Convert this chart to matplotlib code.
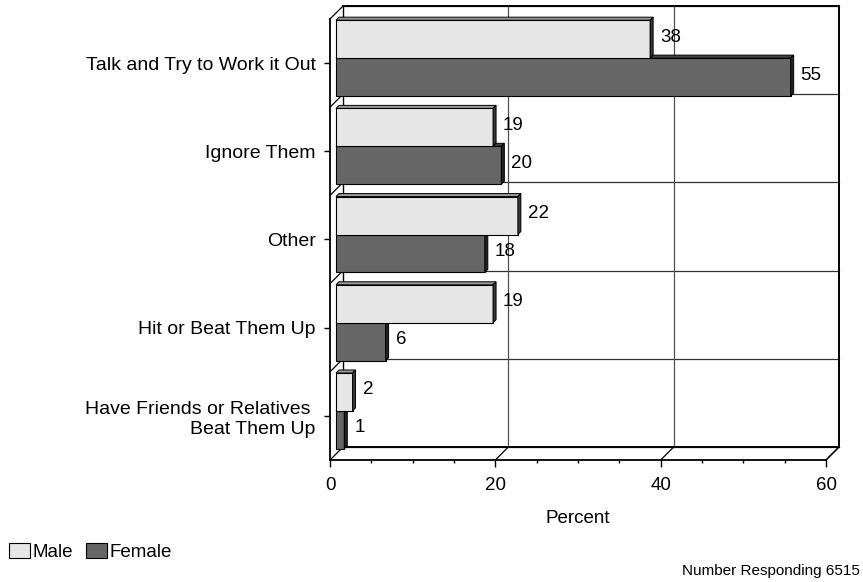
import matplotlib
matplotlib.use("Agg")
import matplotlib.pyplot as plt
import matplotlib.transforms as mtransforms
from matplotlib.patches import Polygon, Patch
from matplotlib.lines import Line2D
from matplotlib.ticker import MultipleLocator

plt.rcParams['font.family'] = ['Liberation Sans', 'DejaVu Sans']

categories = ["Talk and Try to Work it Out", "Ignore Them", "Other",
              "Hit or Beat Them Up", "Have Friends or Relatives \nBeat Them Up"]
male = [38, 19, 22, 19, 2]
female = [55, 20, 18, 6, 1]
series_names = ["Male", "Female"]
x_ticks = [0, 20, 40, 60]
x_label = "Percent"
footnote = "Number Responding 6515"

male_col, male_top, male_side = "#e6e6e6", "#9a9a9a", "#383838"
fem_col, fem_top, fem_side = "#666666", "#444444", "#222222"

W, H, DPI = 863, 582, 100
fig = plt.figure(figsize=(W / DPI, H / DPI), dpi=DPI)
ax = fig.add_axes([330 / W, 122 / H, 496 / W, 441 / H])
ax.set_xlim(0, 60)
ax.set_ylim(-0.5, 4.5)
ax.patch.set_visible(False)

n = len(categories)
ypos = [n - 1 - i for i in range(n)]
FS = 13.5

WALL = 13          # depth of the chart box, pixels
BX, BY = 6, 5      # bars sit midway in the box depth
D = 3              # bar depth, pixels


def shift(dx, dy):
    return ax.transData + mtransforms.ScaledTranslation(dx / DPI, dy / DPI, fig.dpi_scale_trans)


back = shift(WALL, WALL)
ident = mtransforms.IdentityTransform()

# back wall: category separators and vertical gridlines
for b in [i - 0.5 for i in range(n + 1)]:
    ax.plot([0, 60], [b, b], transform=back, color="#303030", lw=0.9, clip_on=False, zorder=1)
for xv in x_ticks[1:-1]:
    ax.plot([xv, xv], [-0.5, 4.5], transform=back, color="#505050", lw=0.9, clip_on=False, zorder=1)
# back wall frame
ax.plot([0, 0], [-0.5, 4.5], transform=back, color="k", lw=1.0, clip_on=False, zorder=1)
ax.plot([60, 60], [-0.5, 4.5], transform=back, color="k", lw=1.4, clip_on=False, zorder=1)
ax.plot([0, 60], [4.5, 4.5], transform=back, color="k", lw=1.4, clip_on=False, zorder=1)
ax.plot([0, 60], [-0.5, -0.5], transform=back, color="k", lw=1.4, clip_on=False, zorder=1)


def diag(x, y, lw=0.9):
    p = ax.transData.transform((x, y))
    ax.add_line(Line2D([p[0], p[0] + WALL], [p[1], p[1] + WALL], transform=ident,
                       color="k", lw=lw, clip_on=False, zorder=1))


for b in [i - 0.5 for i in range(n + 1)]:
    diag(0, b)
for xv in x_ticks[1:]:
    diag(xv, -0.5, lw=1.2 if xv == 60 else 0.9)

# bars with a shallow 3D top and side face
front = shift(BX, BY)
h = 0.43


def bar3d(yc_low, value, face, top, side):
    ax.barh(yc_low + h / 2, value, height=h, left=0, color=face, edgecolor="k",
            lw=0.8, transform=front, clip_on=False, zorder=3)
    x0, y0 = ax.transData.transform((0, yc_low)) + (BX, BY)
    x1, y1 = ax.transData.transform((value, yc_low + h)) + (BX, BY)
    ax.add_patch(Polygon([(x0, y1), (x1, y1), (x1 + D, y1 + D), (x0 + D, y1 + D)],
                         closed=True, facecolor=top, edgecolor="k", lw=0.7,
                         transform=ident, clip_on=False, zorder=3))
    ax.add_patch(Polygon([(x1, y0), (x1, y1), (x1 + D, y1 + D), (x1 + D, y0 + D)],
                         closed=True, facecolor=side, edgecolor="k", lw=0.7,
                         transform=ident, clip_on=False, zorder=3))
    ax.annotate(f"{value}", xy=(value, yc_low + h / 2), xytext=(BX + 10, BY + 2),
                textcoords="offset pixels", ha="left", va="center", fontsize=FS,
                zorder=4, annotation_clip=False)


for y, m, f in zip(ypos, male, female):
    bar3d(y - h, f, fem_col, fem_top, fem_side)
    bar3d(y, m, male_col, male_top, male_side)

# front axes
for s in ["top", "right"]:
    ax.spines[s].set_visible(False)
for s in ["left", "bottom"]:
    ax.spines[s].set_linewidth(1.3)
    ax.spines[s].set_zorder(2)

ax.set_xticks(x_ticks)
ax.xaxis.set_minor_locator(MultipleLocator(5))
ax.tick_params(axis="x", which="major", length=5, width=1.0, pad=7, labelsize=FS)
ax.tick_params(axis="x", which="minor", length=2.2, width=1.0)
ax.set_yticks(ypos)
ax.set_yticklabels(categories, fontsize=14)
ax.tick_params(axis="y", length=4.3, width=1.0, pad=6)
for t in ax.get_yticklabels():
    t.set_linespacing(1.2)
ax.set_xlabel(x_label, fontsize=FS, labelpad=12)

handles = [Patch(facecolor=male_col, edgecolor="k", lw=0.8),
           Patch(facecolor=fem_col, edgecolor="k", lw=0.8)]
fig.legend(handles, series_names, loc="center left", bbox_to_anchor=(9 / W, 1 - 552 / H),
           ncol=2, frameon=False, fontsize=FS, handlelength=1.1, handleheight=0.8,
           handletextpad=0.15, columnspacing=0.7, borderaxespad=0, borderpad=0)
fig.text(860 / W, 1 - 571 / H, footnote, ha="right", va="center", fontsize=11)

fig.savefig("out.png", dpi=DPI)
